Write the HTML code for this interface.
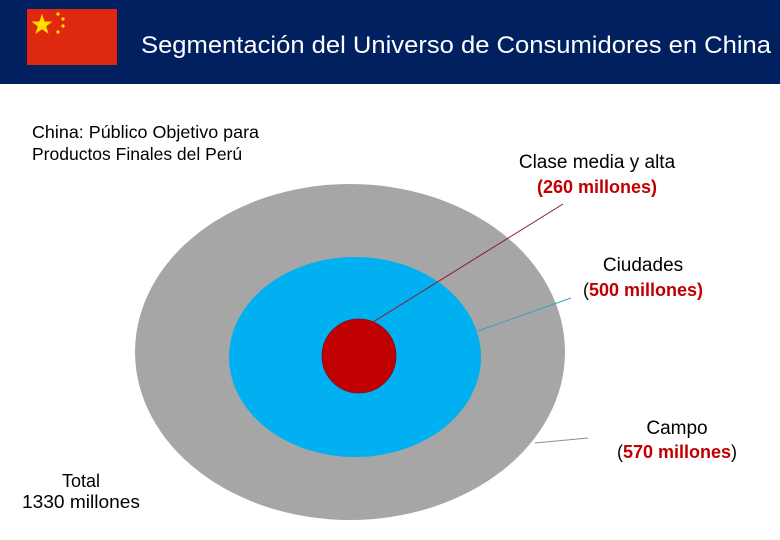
<!DOCTYPE html>
<html><head><meta charset="utf-8"><style>
html,body{margin:0;padding:0;background:#fff;}
svg{display:block;font-family:"Liberation Sans",Arial,sans-serif;}
</style></head><body>
<svg width="780" height="540" viewBox="0 0 780 540">
<rect x="0" y="0" width="780" height="84" fill="#002060"/>
<g>
<rect x="27" y="9" width="90" height="56" fill="#de2910"/>
<polygon points="42,14 44.6,21.5 52.5,21.6 46.2,26.3 48.5,33.8 42,29.3 35.5,33.8 37.8,26.3 31.5,21.6 39.4,21.5" fill="#ffde00"/>
<circle cx="58" cy="14" r="1.6" fill="#ffde00"/><circle cx="63" cy="19" r="1.6" fill="#ffde00"/>
<circle cx="63" cy="26" r="1.6" fill="#ffde00"/><circle cx="58" cy="32" r="1.6" fill="#ffde00"/>
</g>
<text x="141" y="53" font-size="24" fill="#fff" textLength="630" lengthAdjust="spacingAndGlyphs">Segmentación del Universo de Consumidores en China</text>
<text x="32" y="138" font-size="17.5" fill="#000" textLength="227" lengthAdjust="spacingAndGlyphs">China: Público Objetivo para</text>
<text x="32" y="160" font-size="17.5" fill="#000">Productos Finales del Perú</text>
<ellipse cx="350" cy="352" rx="215" ry="168" fill="#a6a6a6"/>
<ellipse cx="355" cy="357" rx="126" ry="100" fill="#00b0f0"/>
<circle cx="359" cy="356" r="37" fill="#c00000" stroke="#7a1020" stroke-width="0.8"/>
<line x1="563" y1="204" x2="373" y2="322" stroke="#8b1a2a" stroke-width="1"/>
<line x1="571" y1="298" x2="478" y2="331" stroke="#3a9ec0" stroke-width="1"/>
<line x1="588" y1="438" x2="535" y2="443" stroke="#8090a0" stroke-width="1"/>
<g font-size="19">
<text x="597" y="168" text-anchor="middle" fill="#000">Clase media y alta</text>
<text x="597" y="193" text-anchor="middle" fill="#c00000" font-weight="bold" font-size="18">(260 millones)</text>
<text x="643" y="271" text-anchor="middle" fill="#000">Ciudades</text>
<text x="643" y="296" text-anchor="middle" font-size="18"><tspan fill="#000">(</tspan><tspan fill="#c00000" font-weight="bold">500 millones)</tspan></text>
<text x="677" y="434" text-anchor="middle" fill="#000">Campo</text>
<text x="677" y="458" text-anchor="middle" font-size="18"><tspan fill="#000">(</tspan><tspan fill="#c00000" font-weight="bold">570 millones</tspan><tspan fill="#000">)</tspan></text>
<text x="81" y="487" text-anchor="middle" fill="#000" font-size="18">Total</text>
<text x="81" y="508" text-anchor="middle" fill="#000" font-size="18" textLength="118" lengthAdjust="spacingAndGlyphs">1330 millones</text>
</g>
</svg>
</body></html>
